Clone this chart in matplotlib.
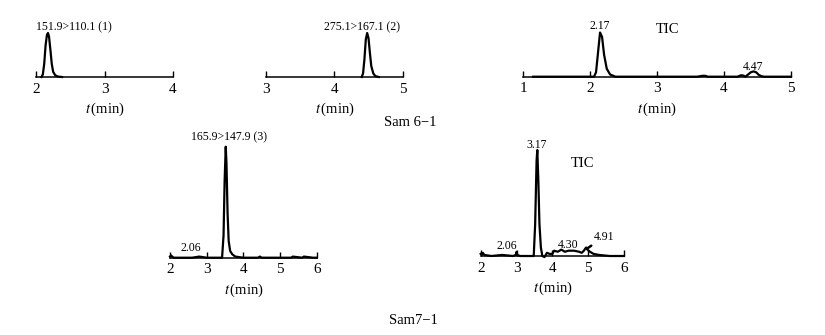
import matplotlib
matplotlib.use('Agg')
import matplotlib.pyplot as plt

plt.rcParams['font.family'] = ['Liberation Serif', 'DejaVu Serif']
plt.rcParams['mathtext.fontset'] = 'stix'

# Sam 6-1, channel (1)
t1 = [2.08, 2.10, 2.12, 2.14, 2.16, 2.175, 2.19, 2.21, 2.23, 2.25, 2.28, 2.32, 2.38]
y1 = [0, 6, 30, 72, 96, 100, 92, 62, 30, 12, 4, 1, 0]
# Sam 6-1, channel (2)
t2 = [4.40, 4.42, 4.44, 4.46, 4.48, 4.50, 4.52, 4.54, 4.57, 4.60, 4.65]
y2 = [0, 8, 40, 85, 100, 88, 55, 25, 8, 2, 0]
# Sam 6-1, TIC
t3 = [1.15, 2.0, 2.06, 2.09, 2.12, 2.15, 2.18, 2.21, 2.25, 2.30, 2.38, 3.60, 3.68, 3.72, 3.76,
      4.20, 4.25, 4.28, 4.32, 4.36, 4.40, 4.44, 4.48, 4.52, 4.56, 4.60, 5.0]
y3 = [0, 0, 0, 10, 55, 100, 90, 50, 18, 5, 0, 0, 2, 2, 0,
      0, 3, 3, 0, 5, 10, 12, 10, 4, 1, 0, 0]
# Sam7-1, channel (3)
t4 = [2.0, 2.03, 2.06, 2.10, 2.6, 2.8, 3.0, 3.3, 3.42, 3.46, 3.49, 3.52, 3.54, 3.57, 3.60,
      3.64, 3.70, 3.78, 4.0, 4.4, 4.45, 4.5, 5.0, 5.3, 5.35, 5.6, 5.65, 5.9, 6.0]
y4 = [1, 2, 1, 0, 0, 1, 0, 0, 0, 20, 70, 100, 85, 40, 15,
      6, 3, 1, 0, 0, 1, 0, 0, 0, 1, 0, 1, 0, 0]
# Sam7-1, TIC
t5 = [2.0, 2.03, 2.06, 2.1, 2.3, 2.6, 2.9, 2.98, 3.0, 3.02, 3.1, 3.4, 3.48, 3.52, 3.56, 3.58,
      3.61, 3.64, 3.68, 3.72, 3.78, 3.85, 3.92, 4.0, 4.05, 4.15, 4.25, 4.3, 4.35, 4.45, 4.6,
      4.75, 4.82, 4.88, 4.94, 4.98, 5.05, 5.15, 5.3, 5.6, 6.0]
y5 = [2, 1, 3, 1, 0, 1, 0, 1, 4, 1, 0, 0, 0, 30, 90, 100,
      70, 30, 8, 0, -1, 3, 2, 2, 5, 4, 6, 5, 4, 5, 5,
      4, 3, 5, 8, 6, 4, 2, 1, 0, 0]

W, H = 825, 335
fig = plt.figure(figsize=(W / 100, H / 100), dpi=100)


def make_ax(left, right, base, top, xlim, ticks):
    ax = fig.add_axes([left / W, (H - base) / H, (right - left) / W, (base - top) / H])
    ax.set_xlim(*xlim)
    ax.set_ylim(0, 100)
    for s in ['left', 'top', 'right']:
        ax.spines[s].set_visible(False)
    ax.spines['bottom'].set_linewidth(1.1)
    ax.set_yticks([])
    ax.set_xticks(ticks)
    ax.tick_params(axis='x', direction='in', length=4, width=1, labelsize=11, pad=4)
    ax.patch.set_alpha(0)
    ax.set_xlabel(r'$t\,$(min)', fontsize=10.5, labelpad=4)
    return ax


ax1 = make_ax(36, 173, 77, 33, (2, 4), [2, 3, 4])
ax1.plot(t1, y1, color='black', lw=1.6, clip_on=False)
ax1.text(2.56, 114, '151.9>110.1 (1)', fontsize=8.5, ha='center', va='center')

ax2 = make_ax(266, 402.7, 77, 33, (3, 5), [3, 4, 5])
ax2.plot(t2, y2, color='black', lw=1.6, clip_on=False)
ax2.text(4.41, 114, '275.1>167.1 (2)', fontsize=8.5, ha='center', va='center')

ax3 = make_ax(523, 791, 76.7, 32.5, (1, 5), [1, 2, 3, 4, 5])
ax3.plot(t3, y3, color='black', lw=1.6, clip_on=False)
ax3.text(2.15, 114, '2.17', fontsize=8.5, ha='center', va='center')
ax3.text(3.15, 106, 'TIC', fontsize=10.5, ha='center', va='center')
ax3.text(4.44, 21, '4.47', fontsize=8.5, ha='center', va='center')

ax4 = make_ax(170, 316.7, 257.7, 146.7, (2, 6), [2, 3, 4, 5, 6])
ax4.plot(t4, y4, color='black', lw=1.6, clip_on=False)
ax4.text(3.61, 108.7, '165.9>147.9 (3)', fontsize=8.5, ha='center', va='center')
ax4.text(2.57, 8.7, '2.06', fontsize=8.5, ha='center', va='center')

ax5 = make_ax(480.7, 624, 256, 150, (2, 6), [2, 3, 4, 5, 6])
ax5.plot(t5, y5, color='black', lw=1.6, clip_on=False)
ax5.text(3.57, 104.7, '3.17', fontsize=8.5, ha='center', va='center')
ax5.text(4.85, 87.7, 'TIC', fontsize=10.5, ha='center', va='center')
ax5.text(2.73, 9.4, '2.06', fontsize=8.5, ha='center', va='center')
ax5.text(4.44, 10.4, '4.30', fontsize=8.5, ha='center', va='center')
ax5.annotate('4.91', xy=(4.97, 7), xytext=(5.44, 18), fontsize=8.5, ha='center', va='center',
             arrowprops=dict(arrowstyle='-', color='black', lw=1.8, shrinkA=4, shrinkB=0))

fig.text(410 / W, 1 - 123 / H, 'Sam 6\u22121', fontsize=10.5, ha='center', va='center')
fig.text(413 / W, 1 - 320 / H, 'Sam7\u22121', fontsize=10.5, ha='center', va='center')

fig.savefig('out.png', dpi=100)
